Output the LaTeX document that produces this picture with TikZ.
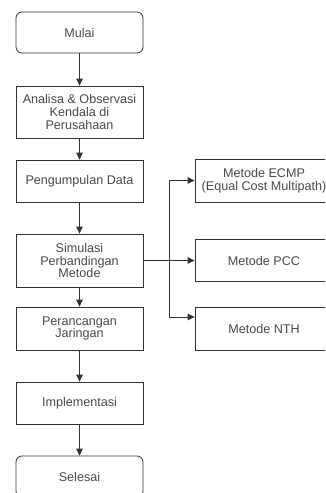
\documentclass[tikz,border=0pt]{standalone}
\usepackage{fontspec}
\setmainfont{Liberation Sans}
\usetikzlibrary{arrows.meta,calc}
\definecolor{linec}{HTML}{333333}
\definecolor{textc}{HTML}{4A4A4A}
\tikzset{
  box/.style={draw=linec, line width=0.8pt, rectangle, minimum width=127pt, inner sep=1pt,
    align=center, text=textc, font=\fontsize{12.6}{12.8}\selectfont},
  rbox/.style={box, minimum width=138pt},
  term/.style={box, rounded corners=6pt},
  conn/.style={draw=linec, line width=0.8pt, -{Triangle[length=7pt,width=6.5pt]}}
}
\begin{document}
\begin{tikzpicture}[x=1pt,y=-1pt]
\useasboundingbox (0,0) rectangle (325,493);
\clip (0,0) rectangle (325,493);
\fill[white] (0,0) rectangle (325,493);
\node[term, minimum height=41pt] (mulai) at (79.5,32.5) {Mulai};
\node[box, minimum height=52pt] (analisa) at (79.5,112) {Analisa \& Observasi\\Kendala di\\Perusahaan};
\node[box, minimum height=42pt] (data) at (79.5,181) {Pengumpulan Data};
\node[box, minimum height=53pt] (sim) at (79.5,260.5) {Simulasi\\Perbandingan\\Metode};
\node[box, minimum height=43pt] (rancang) at (79.5,328.5) {Perancangan\\Jaringan};
\node[box, minimum height=42pt] (impl) at (79.5,403) {Implementasi};
\node[term, minimum height=41pt] (selesai) at (79.5,476.5) {Selesai};
\node[rbox, minimum height=43pt] (ecmp) at (264,180.5) {Metode ECMP\\(Equal Cost Multipath)};
\node[rbox, minimum height=42pt] (pcc) at (264,260.5) {Metode PCC};
\node[rbox, minimum height=43pt] (nth) at (264,328.5) {Metode NTH};
\coordinate (br) at (169,260.5);
\draw[conn] (mulai) -- (analisa);
\draw[conn] (analisa) -- (data);
\draw[conn] (data) -- (sim);
\draw[conn] (sim) -- (rancang);
\draw[conn] (rancang) -- (impl);
\draw[conn] (impl) -- (selesai);
\draw[conn] (sim.east) -- (pcc.west);
\draw[conn] (br) |- (ecmp.west);
\draw[conn] (br) |- ([yshift=11.5pt]nth.west);
\end{tikzpicture}
\end{document}
